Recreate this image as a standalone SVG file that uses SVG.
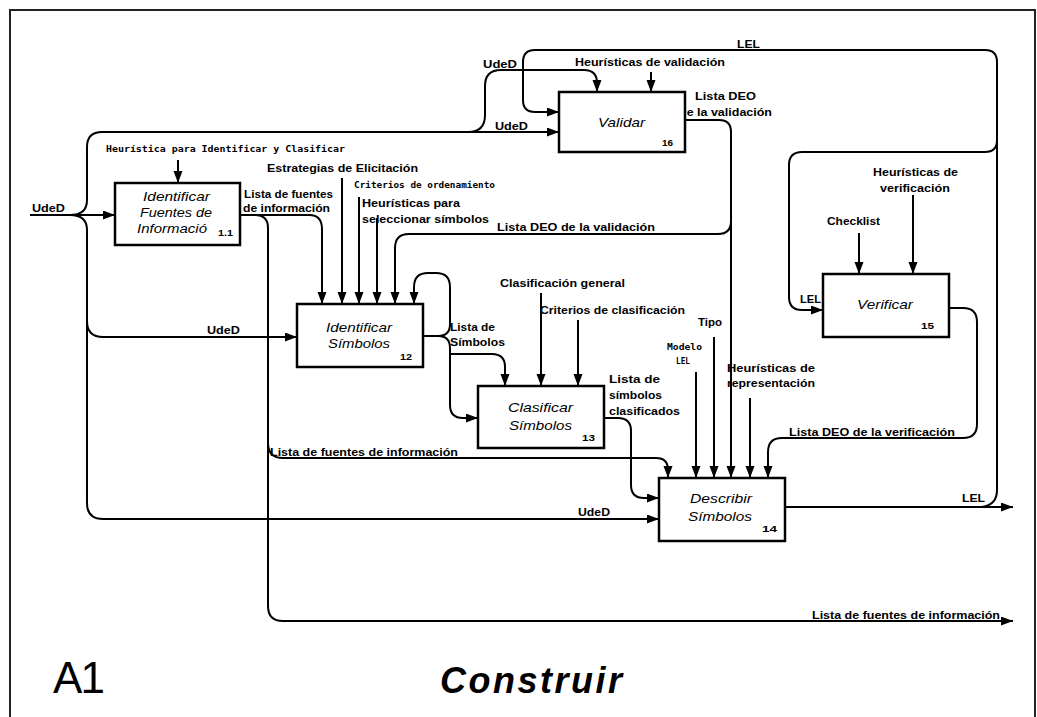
<svg xmlns="http://www.w3.org/2000/svg" width="1037" height="717" viewBox="0 0 1037 717">
  <defs>
    <style>
      .wire { fill: none; stroke: #000; stroke-width: 2; }
      .box { fill: #fff; stroke: #000; stroke-width: 2.5; }
      .lbl { font-family: "Liberation Sans", Arial, sans-serif; font-weight: bold; font-size: 11px; fill: #000; }
      .mono { font-family: "DejaVu Sans Mono", "Liberation Mono", monospace; font-weight: bold; font-size: 9.5px; fill: #000; }
      .name { font-family: "Liberation Sans", Arial, sans-serif; font-style: italic; font-size: 13.5px; fill: #000; }
      .num { font-family: "Liberation Sans", Arial, sans-serif; font-weight: bold; font-size: 9.5px; fill: #000; }
    </style>
    <marker id="ah" markerUnits="userSpaceOnUse" markerWidth="12" markerHeight="10" refX="12" refY="4.5" orient="auto">
      <path d="M0,0 L12,4.5 L0,9 z" fill="#000"/>
    </marker>
  </defs>

  <rect width="1037" height="717" fill="#fff"/>
  <!-- sheet frame -->
  <path d="M10,730 V10 H1035 V730" fill="none" stroke="#222" stroke-width="2"/>

  <g id="connectors">
    <!-- external UdeD input and its branches -->
    <path class="wire" d="M30,215 H115" marker-end="url(#ah)"/>
    <path class="wire" d="M70,215 Q87,215 87,200 V147 Q87,132 102,132 H559" marker-end="url(#ah)"/>
    <path class="wire" d="M468,132 Q485,132 485,115 V86 Q485,70 501,70 H584 Q597,70 597,83 V92" marker-end="url(#ah)"/>
    <path class="wire" d="M70,215 Q87,215 87,230 V503 Q87,519 103,519 H659" marker-end="url(#ah)"/>
    <path class="wire" d="M87,321 Q87,337 103,337 H297" marker-end="url(#ah)"/>

    <!-- controls of 1.1 -->
    <path class="wire" d="M178,160 V183" marker-end="url(#ah)"/>

    <!-- Validar controls -->
    <path class="wire" d="M651,72 V92" marker-end="url(#ah)"/>

    <!-- LEL output and feedback -->
    <path class="wire" d="M785,507 H1013" marker-end="url(#ah)"/>
    <path class="wire" d="M982,507 Q997,505 997,490 V62 Q997,50 985,50 H535 Q523,50 523,62 V100 Q523,112 535,112 H559" marker-end="url(#ah)"/>
    <path class="wire" d="M997,140 Q997,152 985,152 H802 Q789,152 789,165 V297 Q789,310 802,310 H823" marker-end="url(#ah)"/>

    <!-- Validar output: Lista DEO de la validación -->
    <path class="wire" d="M685,120 H719 Q731,120 731,132 V221 Q731,234 718,234 H409 Q395,234 395,248 V304" marker-end="url(#ah)"/>
    <path class="wire" d="M731,215 V478" marker-end="url(#ah)"/>

    <!-- 1.1 output: Lista de fuentes de información -->
    <path class="wire" d="M240,215 H309 Q322,215 322,229 V304" marker-end="url(#ah)"/>
    <path class="wire" d="M255,215 Q268,215 268,228 V606 Q268,621 283,621 H1013" marker-end="url(#ah)"/>
    <path class="wire" d="M268,443 Q268,458 283,458 H656 Q668,458 668,470 V478" marker-end="url(#ah)"/>

    <!-- controls of 12 -->
    <path class="wire" d="M342,178 V304" marker-end="url(#ah)"/>
    <path class="wire" d="M359,197 V304" marker-end="url(#ah)"/>
    <path class="wire" d="M377,218 V304" marker-end="url(#ah)"/>
    <path class="wire" d="M423,336 H438 Q450,336 450,324 V287 Q450,273 436,273 H428 Q414,273 414,287 V304" marker-end="url(#ah)"/>

    <!-- 12 output: Lista de Símbolos -->
    <path class="wire" d="M438,336 Q450,336 450,348 V405 Q450,418 463,418 H478" marker-end="url(#ah)"/>
    <path class="wire" d="M450,354 H492 Q505,354 505,367 V386" marker-end="url(#ah)"/>

    <!-- controls of 13 -->
    <path class="wire" d="M541,293 V386" marker-end="url(#ah)"/>
    <path class="wire" d="M578,320 V386" marker-end="url(#ah)"/>

    <!-- 13 output: Lista de símbolos clasificados -->
    <path class="wire" d="M604,418 H618 Q631,418 631,431 V485 Q631,498 644,498 H659" marker-end="url(#ah)"/>

    <!-- controls of 14 -->
    <path class="wire" d="M696,372 V478" marker-end="url(#ah)"/>
    <path class="wire" d="M714,337 V478" marker-end="url(#ah)"/>
    <path class="wire" d="M750,398 V478" marker-end="url(#ah)"/>

    <!-- 15 output: Lista DEO de la verificación -->
    <path class="wire" d="M949,308 H963 Q977,308 977,322 V424 Q977,438 963,438 H782 Q768,438 768,452 V478" marker-end="url(#ah)"/>

    <!-- controls of 15 -->
    <path class="wire" d="M859,233 V274" marker-end="url(#ah)"/>
    <path class="wire" d="M913,195 V274" marker-end="url(#ah)"/>

    <!-- arrow labels -->
    <text class="lbl" x="32" y="212" textLength="33" lengthAdjust="spacingAndGlyphs">UdeD</text>
    <text class="mono" x="106" y="152" textLength="239" lengthAdjust="spacingAndGlyphs">Heurística para Identificar y Clasificar</text>
    <text class="lbl" x="244" y="198" textLength="89" lengthAdjust="spacingAndGlyphs">Lista de fuentes</text>
    <text class="lbl" x="243" y="212" textLength="87" lengthAdjust="spacingAndGlyphs">de información</text>
    <text class="lbl" x="267" y="172" textLength="151" lengthAdjust="spacingAndGlyphs">Estrategias de Elicitación</text>
    <text class="mono" x="354" y="188" textLength="141" lengthAdjust="spacingAndGlyphs">Criterios de ordenamiento</text>
    <text class="lbl" x="362" y="207" textLength="98" lengthAdjust="spacingAndGlyphs">Heurísticas para</text>
    <text class="lbl" x="362" y="223" textLength="127" lengthAdjust="spacingAndGlyphs">seleccionar símbolos</text>
    <text class="lbl" x="497" y="231" textLength="158" lengthAdjust="spacingAndGlyphs">Lista DEO de la validación</text>
    <text class="lbl" x="483" y="68" textLength="34" lengthAdjust="spacingAndGlyphs">UdeD</text>
    <text class="lbl" x="495" y="130" textLength="33" lengthAdjust="spacingAndGlyphs">UdeD</text>
    <text class="lbl" x="575" y="66" textLength="150" lengthAdjust="spacingAndGlyphs">Heurísticas de validación</text>
    <text class="lbl" x="737" y="48" textLength="23" lengthAdjust="spacingAndGlyphs">LEL</text>
    <text class="lbl" x="695" y="100" textLength="61" lengthAdjust="spacingAndGlyphs">Lista DEO</text>
    <text class="lbl" x="679" y="116" textLength="93" lengthAdjust="spacingAndGlyphs">de la validación</text>
    <text class="lbl" x="873" y="176" textLength="85" lengthAdjust="spacingAndGlyphs">Heurísticas de</text>
    <text class="lbl" x="880" y="192" textLength="70" lengthAdjust="spacingAndGlyphs">verificación</text>
    <text class="lbl" x="827" y="225" textLength="53" lengthAdjust="spacingAndGlyphs">Checklist</text>
    <text class="lbl" x="800" y="303" textLength="21" lengthAdjust="spacingAndGlyphs">LEL</text>
    <text class="lbl" x="207" y="334" textLength="33" lengthAdjust="spacingAndGlyphs">UdeD</text>
    <text class="lbl" x="450" y="331" textLength="45" lengthAdjust="spacingAndGlyphs">Lista de</text>
    <text class="lbl" x="450" y="346" textLength="55" lengthAdjust="spacingAndGlyphs">Símbolos</text>
    <text class="lbl" x="500" y="287" textLength="125" lengthAdjust="spacingAndGlyphs">Clasificación general</text>
    <text class="lbl" x="540" y="314" textLength="145" lengthAdjust="spacingAndGlyphs">Criterios de clasificación</text>
    <text class="lbl" x="698" y="326" textLength="24" lengthAdjust="spacingAndGlyphs">Tipo</text>
    <text class="mono" x="667" y="350" textLength="35" lengthAdjust="spacingAndGlyphs" style="font-size:8px">Modelo</text>
    <text class="mono" x="676" y="364" textLength="14" lengthAdjust="spacingAndGlyphs" style="font-size:8px">LEL</text>
    <text class="lbl" x="727" y="372" textLength="88" lengthAdjust="spacingAndGlyphs">Heurísticas de</text>
    <text class="lbl" x="727" y="387" textLength="88" lengthAdjust="spacingAndGlyphs">representación</text>
    <text class="lbl" x="609" y="383" textLength="51" lengthAdjust="spacingAndGlyphs">Lista de</text>
    <text class="lbl" x="609" y="399" textLength="53" lengthAdjust="spacingAndGlyphs">símbolos</text>
    <text class="lbl" x="609" y="415" textLength="71" lengthAdjust="spacingAndGlyphs">clasificados</text>
    <text class="lbl" x="789" y="436" textLength="166" lengthAdjust="spacingAndGlyphs">Lista DEO de la verificación</text>
    <text class="lbl" x="270" y="456" textLength="188" lengthAdjust="spacingAndGlyphs">Lista de fuentes de información</text>
    <text class="lbl" x="578" y="516" textLength="32" lengthAdjust="spacingAndGlyphs">UdeD</text>
    <text class="lbl" x="962" y="502" textLength="23" lengthAdjust="spacingAndGlyphs">LEL</text>
    <text class="lbl" x="812" y="619" textLength="188" lengthAdjust="spacingAndGlyphs">Lista de fuentes de información</text>
  </g>

  <g id="node-1-1">
    <rect class="box" x="115" y="183" width="125" height="62"/>
    <text class="name" x="143" y="201" textLength="67" lengthAdjust="spacingAndGlyphs">Identificar</text>
    <text class="name" x="140" y="217" textLength="72" lengthAdjust="spacingAndGlyphs">Fuentes de</text>
    <text class="name" x="137" y="233" textLength="70" lengthAdjust="spacingAndGlyphs">Informació</text>
    <text class="num" x="218" y="236" textLength="15" lengthAdjust="spacingAndGlyphs">1.1</text>
  </g>

  <g id="node-16">
    <rect class="box" x="559" y="92" width="126" height="60"/>
    <text class="name" x="598" y="127" textLength="47" lengthAdjust="spacingAndGlyphs">Validar</text>
    <text class="num" x="662" y="146" textLength="11" lengthAdjust="spacingAndGlyphs">16</text>
  </g>

  <g id="node-12">
    <rect class="box" x="297" y="304" width="126" height="63"/>
    <text class="name" x="326" y="332" textLength="66" lengthAdjust="spacingAndGlyphs">Identificar</text>
    <text class="name" x="328" y="348" textLength="62" lengthAdjust="spacingAndGlyphs">Símbolos</text>
    <text class="num" x="400" y="360" textLength="12" lengthAdjust="spacingAndGlyphs">12</text>
  </g>

  <g id="node-13">
    <rect class="box" x="478" y="386" width="126" height="62"/>
    <text class="name" x="508" y="412" textLength="65" lengthAdjust="spacingAndGlyphs">Clasificar</text>
    <text class="name" x="509" y="430" textLength="63" lengthAdjust="spacingAndGlyphs">Símbolos</text>
    <text class="num" x="582" y="441" textLength="13" lengthAdjust="spacingAndGlyphs">13</text>
  </g>

  <g id="node-14">
    <rect class="box" x="659" y="478" width="126" height="63"/>
    <text class="name" x="690" y="503" textLength="62" lengthAdjust="spacingAndGlyphs">Describir</text>
    <text class="name" x="688" y="521" textLength="64" lengthAdjust="spacingAndGlyphs">Símbolos</text>
    <text class="num" x="762" y="532" textLength="15" lengthAdjust="spacingAndGlyphs">14</text>
  </g>

  <g id="node-15">
    <rect class="box" x="823" y="274" width="126" height="63"/>
    <text class="name" x="857" y="309" textLength="56" lengthAdjust="spacingAndGlyphs">Verificar</text>
    <text class="num" x="921" y="329" textLength="13" lengthAdjust="spacingAndGlyphs">15</text>
  </g>

  <g id="title">
    <text x="53" y="693" textLength="52" lengthAdjust="spacing" style="font-family:'Liberation Sans', Arial, sans-serif; font-size:44px; fill:#000">A1</text>
    <text x="440" y="693" textLength="182" lengthAdjust="spacing" style="font-family:'Liberation Sans', Arial, sans-serif; font-size:36px; font-weight:bold; font-style:italic; fill:#000">Construir</text>
  </g>
</svg>
